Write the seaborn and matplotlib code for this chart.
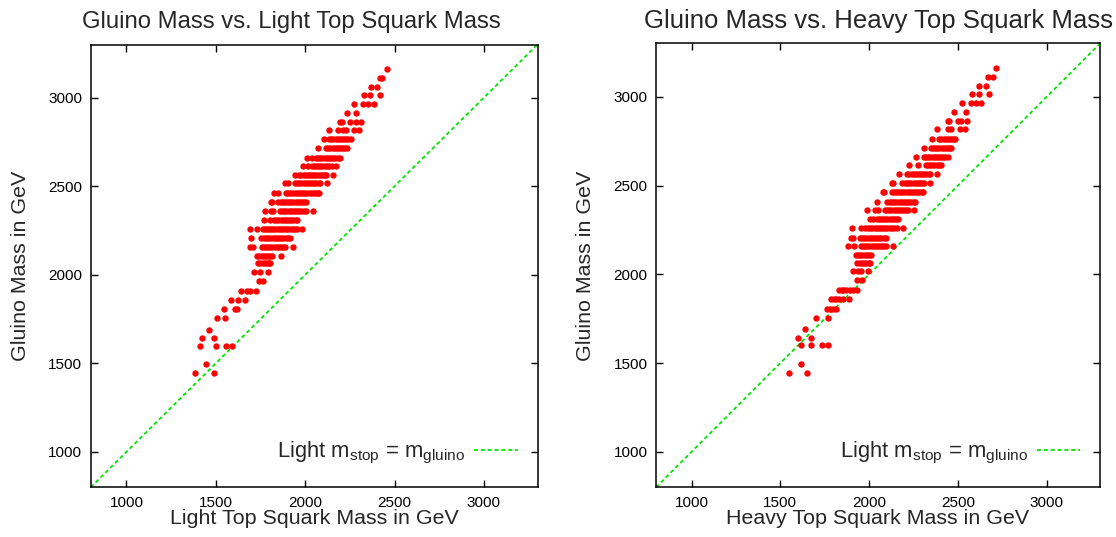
import matplotlib
matplotlib.use("Agg")
import matplotlib.pyplot as plt
import seaborn as sns
import pandas as pd

# Gluino mass rows (GeV) shared by both panels
gluino_rows = [3160, 3112, 3062, 3015, 2965, 2913, 2864, 2816, 2764, 2713,
               2662, 2614, 2563, 2516, 2463, 2409, 2362, 2311, 2258, 2207,
               2157, 2108, 2065, 2016, 1966, 1910, 1860, 1807, 1756, 1690,
               1643, 1600, 1496, 1443]

# Light top squark masses (GeV) of the points on each gluino row
light_stop_rows = [
    [2460],
    [2418, 2432],
    [2366, 2400],
    [2328, 2362, 2418],
    [2275, 2325, 2353, 2383],
    [2236, 2284],
    [2195, 2208, 2251, 2283, 2312],
    [2133, 2185, 2213, 2228, 2273, 2300],
    [2105, 2134, 2146, 2158, 2170, 2182, 2194, 2206, 2218, 2230, 2242, 2254],
    [2072, 2117, 2129, 2141, 2153, 2165, 2177, 2189, 2201, 2213, 2225, 2232],
    [2009, 2037, 2061, 2073, 2085, 2097, 2109, 2121, 2133, 2145, 2157, 2169, 2181, 2195],
    [1990, 2018, 2037, 2049, 2061, 2073, 2085, 2097, 2109, 2121, 2133, 2148, 2171],
    [1943, 1967, 1979, 1991, 2003, 2015, 2027, 2039, 2051, 2063, 2075, 2087, 2099, 2111, 2117, 2154],
    [1887, 1906, 1943, 1955, 1967, 1979, 1991, 2003, 2015, 2027, 2039, 2051, 2063, 2075, 2083, 2120],
    [1826, 1850, 1893, 1905, 1917, 1929, 1941, 1953, 1965, 1977, 1989, 2001, 2013, 2025, 2037, 2049, 2061, 2073, 2079],
    [1809, 1814, 1850, 1862, 1874, 1886, 1898, 1910, 1922, 1934, 1946, 1958, 1970, 1982, 1994, 2005],
    [1775, 1809, 1818, 1859, 1871, 1883, 1895, 1907, 1919, 1931, 1943, 1955, 1967, 1979, 1991, 2005, 2042],
    [1771, 1803, 1826, 1838, 1850, 1862, 1874, 1886, 1898, 1910, 1922, 1934, 1946, 1953],
    [1691, 1729, 1762, 1774, 1786, 1798, 1810, 1822, 1834, 1846, 1858, 1870, 1882, 1894, 1906, 1918, 1930, 1942, 1953, 1982],
    [1697, 1753, 1770, 1782, 1794, 1806, 1818, 1830, 1842, 1854, 1866, 1878, 1890, 1902, 1915],
    [1691, 1710, 1757, 1769, 1781, 1793, 1805, 1817, 1829, 1841, 1853, 1865, 1877, 1887, 1934],
    [1732, 1744, 1756, 1768, 1780, 1792, 1804, 1813, 1863],
    [1738, 1750, 1762, 1774, 1786, 1798, 1803],
    [1714, 1747, 1794],
    [1743, 1766],
    [1641, 1673, 1691, 1723],
    [1585, 1622, 1662],
    [1548, 1606, 1620],
    [1505, 1550],
    [1460],
    [1423, 1490],
    [1412, 1503, 1557, 1591],
    [1443],
    [1382, 1488],
]

# Heavy top squark masses (GeV) of the points on each gluino row
heavy_stop_rows = [
    [2713],
    [2671, 2696],
    [2620, 2657],
    [2579, 2620, 2673],
    [2525, 2572, 2602, 2630],
    [2480, 2544],
    [2444, 2452, 2499, 2516, 2553],
    [2381, 2446, 2459, 2512, 2542],
    [2356, 2395, 2407, 2419, 2431, 2443, 2455, 2467, 2479, 2484],
    [2307, 2348, 2360, 2372, 2384, 2396, 2408, 2420, 2432, 2444, 2456, 2461],
    [2262, 2309, 2321, 2333, 2345, 2357, 2369, 2381, 2393, 2405, 2417, 2429, 2443],
    [2226, 2274, 2320, 2332, 2344, 2356, 2368, 2380, 2392, 2403],
    [2170, 2215, 2227, 2239, 2251, 2263, 2275, 2287, 2299, 2311, 2323, 2335, 2343, 2381],
    [2127, 2136, 2184, 2202, 2214, 2226, 2238, 2250, 2262, 2274, 2286, 2298, 2309, 2343],
    [2077, 2084, 2127, 2139, 2151, 2163, 2175, 2187, 2199, 2211, 2223, 2235, 2247, 2259, 2271, 2283, 2295, 2305],
    [2043, 2099, 2118, 2130, 2142, 2154, 2166, 2178, 2190, 2202, 2214, 2226, 2238, 2250, 2258],
    [1990, 2033, 2052, 2090, 2102, 2114, 2126, 2138, 2150, 2162, 2174, 2186, 2198, 2210, 2221, 2253],
    [2005, 2020, 2043, 2055, 2067, 2079, 2091, 2103, 2115, 2127, 2139, 2151, 2164],
    [1902, 1954, 1977, 1995, 2007, 2019, 2031, 2043, 2055, 2067, 2079, 2091, 2103, 2115, 2127, 2139, 2155, 2189],
    [1898, 1908, 1949, 1961, 1973, 1985, 1997, 2009, 2021, 2033, 2045, 2057, 2069, 2081, 2095],
    [1883, 1915, 1954, 1966, 1978, 1990, 2002, 2014, 2026, 2038, 2050, 2062, 2074, 2086, 2095, 2136],
    [1926, 1938, 1950, 1962, 1974, 1986, 1998, 2009],
    [1934, 1949, 1961, 1973, 1985, 1997, 2005],
    [1908, 1939, 1954, 1992],
    [1930, 1958],
    [1832, 1845, 1855, 1870, 1892, 1910, 1930],
    [1785, 1800, 1812, 1830, 1855, 1888],
    [1761, 1780, 1798, 1814],
    [1701, 1767],
    [1641],
    [1601, 1671],
    [1615, 1673, 1733, 1767],
    [1618],
    [1551, 1652],
]

# Reference line m_stop = m_gluino
diag_gev = [800, 3300]

tick_values = [1000, 1500, 2000, 2500, 3000]
panel_titles = ["Gluino Mass vs. Light Top Squark Mass",
                "Gluino Mass vs. Heavy Top Squark Mass"]
x_labels = ["Light Top Squark Mass in GeV", "Heavy Top Squark Mass in GeV"]
y_label = "Gluino Mass in GeV"
legend_label = r"Light m$_{\rm stop}$ = m$_{\rm gluino}$"


def rows_to_frame(rows):
    stop, glu = [], []
    for g, xs in zip(gluino_rows, rows):
        stop.extend(xs)
        glu.extend([g] * len(xs))
    return pd.DataFrame({"stop": stop, "gluino": glu})


sns.set_style("ticks")
plt.rcParams["font.family"] = ["Liberation Sans", "DejaVu Sans"]
plt.rcParams["mathtext.fontset"] = "custom"
plt.rcParams["mathtext.rm"] = "Liberation Sans"
plt.rcParams["mathtext.it"] = "Liberation Sans"

fig = plt.figure(figsize=(11.16, 5.37), dpi=100)
ax_rects = [[90.7 / 1116, 49.7 / 537, 446.8 / 1116, 442.8 / 537],
            [656 / 1116, 49.7 / 537, 444 / 1116, 443.8 / 537]]
title_x = [291.7 / 1116, 878 / 1116]
title_size = [17.2, 18.5]
diag_df = pd.DataFrame({"x": diag_gev, "y": diag_gev})

for i, rows in enumerate([light_stop_rows, heavy_stop_rows]):
    ax = fig.add_axes(ax_rects[i])
    df = rows_to_frame(rows)
    sns.lineplot(data=diag_df, x="x", y="y", ax=ax, color="#00e600",
                 lw=1.3, dashes=False, label=legend_label, zorder=1)
    ax.lines[-1].set_dashes((2.2, 1.6))
    sns.scatterplot(data=df, x="stop", y="gluino", ax=ax, color="#ff0000",
                    s=21, linewidth=0, zorder=3)
    ax.set_xlim(800, 3300)
    ax.set_ylim(800, 3300)
    ax.set_xticks(tick_values)
    ax.set_yticks(tick_values)
    ax.tick_params(direction="in", length=5, width=1, top=True, right=True,
                   labelsize=11, colors="black", pad=6)
    for sp in ax.spines.values():
        sp.set_visible(True)
        sp.set_linewidth(1.1)
        sp.set_color("black")
    ax.set_xlabel(x_labels[i], fontsize=15.4, va="baseline")
    ax.xaxis.set_label_coords(0.5, -0.083)
    ax.set_ylabel(y_label, fontsize=15.4, va="center")
    ax.yaxis.set_label_coords(-0.158, 0.5)
    ax.legend(loc="center right", bbox_to_anchor=(0.956, 0.0775),
              frameon=False, markerfirst=False, fontsize=15.8,
              handlelength=2.0, handletextpad=0.4, borderpad=0,
              borderaxespad=0)
    fig.text(title_x[i], 1 - 28 / 537, panel_titles[i], ha="center",
             va="baseline", fontsize=title_size[i])

fig.savefig("out.png", dpi=100)
